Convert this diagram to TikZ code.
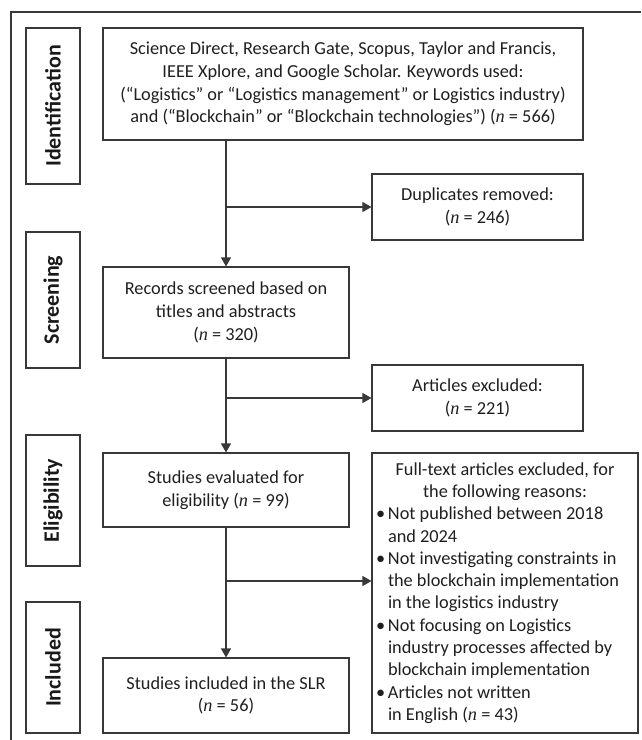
\documentclass[tikz,border=0pt]{standalone}
\usepackage{fontspec}
\setmainfont{Carlito}
\newfontfamily\serifn{Liberation Serif}
\usetikzlibrary{arrows.meta}
\newcommand{\nv}{{\serifn\itshape n}}
\newcommand{\bl}{\makebox[13pt][l]{\hspace{1pt}\textbullet}}
\newcommand{\bi}{\hspace*{13pt}}
\begin{document}
\begin{tikzpicture}[x=1pt,y=-1pt,
  ln/.style={draw=black!78, line width=1.1pt},
  box/.style={ln, align=center, inner sep=0pt, text=black!88,
    font=\fontsize{18.3}{22.7}\selectfont},
  stage/.style={ln, rotate=90, inner sep=0pt, text=black!90,
    font=\bfseries\fontsize{22}{24}\selectfont, minimum height=54pt},
  arr/.style={ln, -{Triangle[length=9pt,width=10pt]}}]
\useasboundingbox (0,0) rectangle (641,740);
\coordinate (fa) at (11,740);
\coordinate (fb) at (11,12);
\coordinate (fc) at (641,12);
\draw[ln] (fa) -- (fb) -- (fc);

% stage labels
\node[stage, minimum width=156pt] (sid) at (53,106) {Identification};
\node[stage, minimum width=136pt] (ssc) at (53,300) {Screening};
\node[stage, minimum width=131pt] (sel) at (53,500.5) {Eligibility};
\node[stage, minimum width=131pt] (sin) at (53,667.5) {Included};

% main boxes
\node[box, minimum width=480pt, minimum height=112pt] (b1) at (343,84)
  {Science Direct, Research Gate, Scopus, Taylor and Francis,\\
   IEEE Xplore, and Google Scholar. Keywords used:\\
   (“Logistics” or “Logistics management” or Logistics industry)\\
   and (“Blockchain” or “Blockchain technologies”) (\nv{} = 566)};
\node[box, minimum width=211pt, minimum height=66pt] (dup) at (477.5,207)
  {Duplicates removed:\\ (\nv{} = 246)};
\node[box, minimum width=246pt, minimum height=91pt] (rec) at (226,312.5)
  {Records screened based on\\ titles and abstracts\\ (\nv{} = 320)};
\node[box, minimum width=211pt, minimum height=66pt] (exc) at (477.5,398)
  {Articles excluded:\\ (\nv{} = 221)};
\node[box, minimum width=246pt, minimum height=74pt] (eva) at (226,490)
  {Studies evaluated for\\ eligibility (\nv{} = 99)};
\node[box, minimum width=246pt, minimum height=75pt] (inc) at (226,695.5)
  {Studies included in the SLR\\ (\nv{} = 56)};
\node[box, minimum width=266pt, minimum height=280pt, font=\fontsize{18.3}{22.3}\selectfont] (ful) at (505,593)
  {\begin{minipage}{260pt}
   \centering Full-text articles excluded, for\\ the following reasons:\par
   \raggedright
   \bl Not published between 2018\\
   \bi and 2024\\
   \bl Not investigating constraints in\\
   \bi the blockchain implementation\\
   \bi in the logistics industry\\
   \bl Not focusing on Logistics\\
   \bi industry processes affected by\\
   \bi blockchain implementation\\
   \bl Articles not written\\
   \bi in English (\nv{} = 43)\par
   \end{minipage}};

% connectors
\coordinate (j0) at (rec.north |- b1.south);
\draw[arr] (j0) -- (rec.north);
\draw[arr] (j0 |- dup.west) -- (dup.west);
\draw[arr] (rec.south) -- (eva.north);
\draw[arr] (rec.south |- exc.west) -- (exc.west);
\draw[arr] (eva.south) -- (inc.north);
\coordinate (j3) at (226,581);
\draw[arr] (j3) -- (j3 -| ful.west);
\end{tikzpicture}
\end{document}
